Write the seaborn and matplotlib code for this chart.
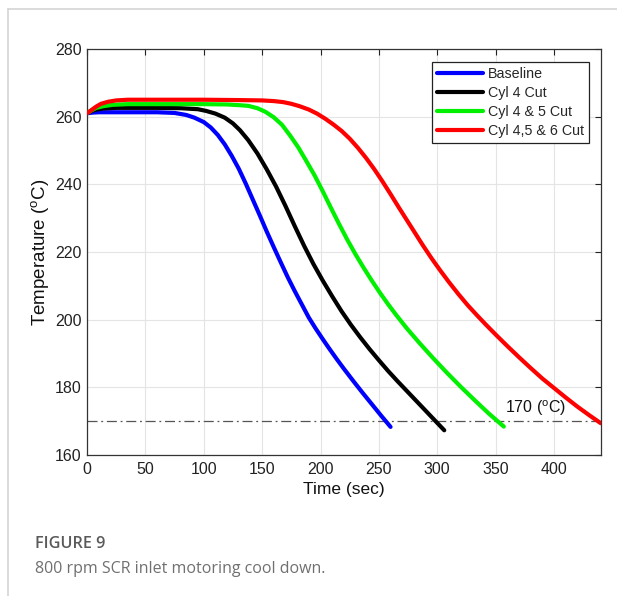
import matplotlib
matplotlib.use("Agg")
import matplotlib.pyplot as plt
from matplotlib.lines import Line2D
import seaborn as sns
import pandas as pd

# Inlet temperature traces (time in s, temperature in degC)
baseline_t = [0, 5, 10, 20, 40, 60, 75, 85, 92, 100, 106, 112, 118, 124, 130,
              136, 142, 148, 154, 160, 166, 172, 178, 184, 190, 196, 202, 208,
              214, 220, 228, 236, 244, 252, 260]
baseline_T = [261.0, 261.2, 261.3, 261.3, 261.3, 261.3, 261.1, 260.5, 259.7,
              258.4, 256.8, 254.6, 251.8, 248.4, 244.6, 240.2, 235.5, 230.8,
              226.0, 221.4, 216.9, 212.5, 208.4, 204.5, 200.6, 197.3, 194.2,
              191.2, 188.3, 185.5, 181.9, 178.4, 175.0, 171.6, 168.3]

cyl4_t = [0, 4, 8, 14, 25, 40, 60, 80, 95, 102, 110, 118, 125, 131, 138, 146,
          154, 162, 170, 178, 186, 194, 202, 210, 218, 226, 234, 242, 250, 258,
          266, 274, 282, 290, 298, 306]
cyl4_T = [261.0, 261.7, 262.1, 262.4, 262.6, 262.6, 262.6, 262.5, 262.2, 261.7,
          260.9, 259.7, 258.0, 256.0, 253.1, 249.1, 244.4, 239.3, 233.6, 227.6,
          221.8, 216.4, 211.5, 206.9, 202.5, 198.5, 194.8, 191.3, 188.0, 184.8,
          181.8, 178.9, 176.0, 173.1, 170.2, 167.3]

cyl45_t = [0, 4, 8, 14, 22, 35, 60, 100, 120, 130, 138, 146, 153, 160, 167, 174,
           181, 188, 195, 202, 209, 216, 223, 230, 237, 244, 251, 258, 265, 274,
           285, 296, 308, 320, 332, 344, 357]
cyl45_T = [261.0, 261.9, 262.6, 263.1, 263.5, 263.7, 263.7, 263.7, 263.6, 263.4,
           263.2, 262.5, 261.4, 259.8, 257.6, 254.4, 250.9, 246.8, 242.6, 237.9,
           233.0, 228.2, 223.6, 219.3, 215.3, 211.5, 207.9, 204.5, 201.3, 197.4,
           193.0, 188.8, 184.4, 180.2, 176.2, 172.3, 168.4]

cyl456_t = [0, 4, 8, 12, 18, 25, 35, 60, 100, 130, 150, 160, 168, 175, 182, 190,
            197, 204, 211, 218, 225, 232, 239, 246, 253, 260, 267, 274, 281, 288,
            295, 302, 310, 318, 326, 334, 342, 350, 360, 370, 380, 390, 400, 410,
            420, 430, 440]
cyl456_T = [261.0, 262.0, 263.0, 263.8, 264.4, 264.8, 265.0, 265.0, 265.0, 264.9,
            264.8, 264.6, 264.3, 263.8, 263.1, 262.1, 260.9, 259.4, 257.7, 255.8,
            253.5, 250.8, 247.8, 244.5, 240.9, 237.1, 233.2, 229.4, 225.6, 221.8,
            218.2, 214.8, 211.1, 207.6, 204.3, 201.3, 198.4, 195.6, 192.2, 188.9,
            185.7, 182.6, 179.8, 177.0, 174.3, 171.8, 169.4]

series_names = ["Baseline", "Cyl 4 Cut", "Cyl 4 & 5 Cut", "Cyl 4,5 & 6 Cut"]
series_colors = ["#0000ff", "#000000", "#00f000", "#ff0000"]
threshold = 170
x_ticks = [0, 50, 100, 150, 200, 250, 300, 350, 400]
y_ticks = [160, 180, 200, 220, 240, 260, 280]

frames = []
for name, t, T in zip(series_names,
                      [baseline_t, cyl4_t, cyl45_t, cyl456_t],
                      [baseline_T, cyl4_T, cyl45_T, cyl456_T]):
    frames.append(pd.DataFrame({"Time": t, "Temp": T, "Case": name}))
df = pd.concat(frames, ignore_index=True)

sns.set_theme(style="white")
plt.rcParams["font.family"] = ["Liberation Sans", "DejaVu Sans"]
plt.rcParams["mathtext.default"] = "regular"

fig = plt.figure(figsize=(6.17, 5.96), dpi=100)
ax = fig.add_axes([0.141, 0.2366, 0.9736 - 0.141, 0.9178 - 0.2366])

sns.lineplot(data=df, x="Time", y="Temp", hue="Case", hue_order=series_names,
             palette=series_colors, estimator=None, sort=False, linewidth=3.0,
             legend=False, ax=ax, zorder=3)

ax.axhline(threshold, color="#555555", linestyle=(0, (8, 3, 1.5, 3)),
           linewidth=0.9, zorder=2)
ax.text(358, 173.8, "170 ($^{o}$C)", fontsize=11.5, va="center", ha="left",
        color="#111111")

ax.set_xlim(0, 440)
ax.set_ylim(160, 280)
ax.set_xticks(x_ticks)
ax.set_yticks(y_ticks)
ax.grid(True, color="#e4e4e4", linewidth=0.8)
ax.set_axisbelow(True)
ax.tick_params(direction="in", length=4, width=0.8, top=True, right=True,
               labelsize=11.5, colors="#222222")
ax.tick_params(axis="y", pad=4)
ax.tick_params(axis="x", pad=5)
for s in ax.spines.values():
    s.set_color("#333333")
    s.set_linewidth(0.9)

ax.set_xlabel("Time (sec)", fontsize=12.5, color="#111111", labelpad=4)
ax.set_ylabel("Temperature ($^{o}$C)", fontsize=13.5, color="#111111",
              labelpad=3)

handles = [Line2D([0], [0], color=c, linewidth=3.0) for c in series_colors]
leg = ax.legend(handles, series_names, loc="upper right", fontsize=10.3,
                frameon=True, fancybox=False, edgecolor="#222222",
                framealpha=1, borderpad=0.35, labelspacing=0.36,
                handlelength=3.2, handletextpad=0.35, borderaxespad=0,
                bbox_to_anchor=(0.977, 0.968))
leg.get_frame().set_linewidth(0.9)

# panel frame lines
fig.add_artist(Line2D([8 / 617, 1], [1 - 9 / 596, 1 - 9 / 596],
                      color="#d4d4d4", linewidth=1.2))
fig.add_artist(Line2D([8 / 617, 8 / 617], [0, 1 - 9 / 596],
                      color="#d4d4d4", linewidth=1.2))

fig.text(35 / 617, 1 - 544 / 596, "FIGURE 9", fontsize=11.7,
         family=["Open Sans", "DejaVu Sans"], weight="semibold",
         color="#5a5a5a", va="center", ha="left")
fig.text(35 / 617, 1 - 569 / 596, "800 rpm SCR inlet motoring cool down.",
         fontsize=11.5, family=["Open Sans", "DejaVu Sans"], color="#707070",
         va="center", ha="left")

fig.savefig("out.png", dpi=100, facecolor="white")
